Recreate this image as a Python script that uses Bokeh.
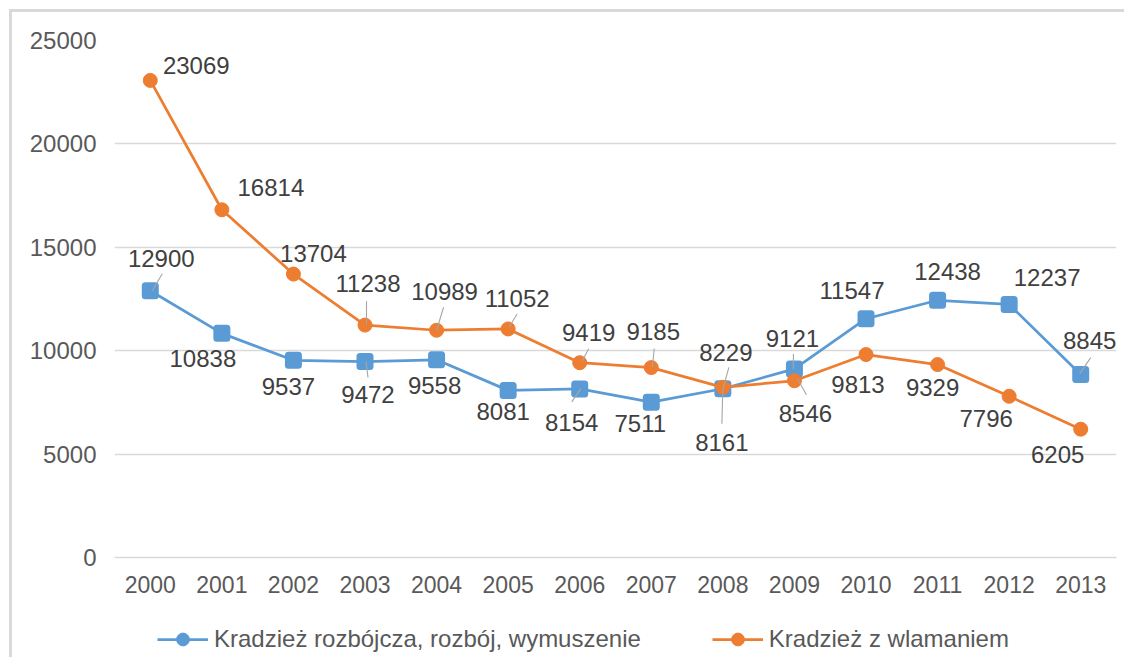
from bokeh.plotting import figure
from bokeh.layouts import column
from bokeh.models import Range1d, Legend, LegendItem, NumeralTickFormatter
from bokeh.embed import file_html
from bokeh.resources import INLINE
from bokeh.core.properties import value

# ---------------- data ----------------
years = ["2000", "2001", "2002", "2003", "2004", "2005", "2006",
         "2007", "2008", "2009", "2010", "2011", "2012", "2013"]
robbery = [12900, 10838, 9537, 9472, 9558, 8081, 8154,
           7511, 8161, 9121, 11547, 12438, 12237, 8845]
burglary = [23069, 16814, 13704, 11238, 10989, 11052, 9419,
            9185, 8229, 8546, 9813, 9329, 7796, 6205]
y_ticks = [0, 5000, 10000, 15000, 20000, 25000]
series_names = ["Kradzież rozbójcza, rozbój, wymuszenie", "Kradzież z wlamaniem"]

# ---------------- label placement (screen px offsets from the point) ----------------
robbery_dx = [11, -19, -5, 3, -2, -5, -8, -11, -1, -2, -14, 10, 38, 9]
robbery_dy = [-32, 25, 26, 33, 26, 21, 34, 21, 54, -30, -28, -29, -27, -34]
burglary_dx = [46, 49, 20, 3, 8, 9, 9, 2, 3, 11, -8, -5, -23, -23]
burglary_dy = [-15, -22, -21, -42, -39, -30, -30, -36, -35, 33, 30, 23, 22, 25]

# leader lines: (index, start dx, start dy, end dx, end dy) in px
robbery_leaders = [(0, 2, 0, 12, -17), (3, 1, 0, 3, 16), (6, 1, 0, -8, 13),
                   (8, 0, 0, -1, 35), (9, -1, 0, -1, -15), (13, -1, -1, 10, -17)]
burglary_leaders = [(3, 1.5, -1, 1.5, -24), (4, 0, 0, 7, -23), (5, 1, -2, 9, -15),
                    (6, 2, -1, 9, -14), (7, 1, 0, 3, -19), (8, 0, 2, 6, -20),
                    (9, 3, -2, 12, 14)]

BLUE = "#5B9BD5"
ORANGE = "#ED7D31"
FONT = "Liberation Sans"

FRAME_W, FRAME_H = 1002, 517
LEFT, RIGHT, TOP, BOTTOM = 102, 8, 28, 48
n = len(years)
xs = list(range(n))
XPX = FRAME_W / n
YPX = FRAME_H / (y_ticks[-1] - y_ticks[0])

p = figure(frame_width=FRAME_W, frame_height=FRAME_H,
           x_range=Range1d(-0.5, n - 0.5), y_range=Range1d(y_ticks[0], y_ticks[-1]),
           output_backend="svg", toolbar_location=None,
           min_border_left=LEFT, min_border_right=RIGHT,
           min_border_top=TOP, min_border_bottom=BOTTOM)
p.outline_line_color = None
p.background_fill_color = "white"
p.border_fill_color = "white"

# axes
p.xaxis.ticker = xs
p.xaxis.major_label_overrides = {i: y for i, y in enumerate(years)}
p.yaxis.ticker = y_ticks
p.yaxis.formatter = NumeralTickFormatter(format="0")
for ax in (p.xaxis, p.yaxis):
    ax.major_tick_line_color = None
    ax.minor_tick_line_color = None
    ax.major_tick_in = 0
    ax.major_tick_out = 0
    ax.major_label_text_font = FONT
    ax.major_label_text_color = "#595959"
p.yaxis.axis_line_color = None
p.xaxis.axis_line_color = "#d9d9d9"
p.xaxis.axis_line_width = 1.3
p.yaxis.major_label_text_font_size = "24px"
p.xaxis.major_label_text_font_size = "23px"
p.yaxis.major_label_standoff = 18
p.xaxis.major_label_standoff = 18

p.xgrid.visible = False
p.ygrid.ticker = y_ticks
p.ygrid.grid_line_color = "#d9d9d9"
p.ygrid.grid_line_width = 1.3

# series
p.line(xs, robbery, color=BLUE, line_width=2.75)
p.scatter(xs, robbery, marker="square", size=10, fill_color=BLUE,
          line_color=BLUE, line_width=7, line_join="round")
p.line(xs, burglary, color=ORANGE, line_width=2.75)
p.scatter(xs, burglary, marker="circle", size=14, fill_color=ORANGE,
          line_color=ORANGE, line_width=1)

# leader lines
def leaders(vals, spec):
    x0, y0, x1, y1 = [], [], [], []
    for i, sdx, sdy, edx, edy in spec:
        x0.append(i + sdx / XPX)
        y0.append(vals[i] - sdy / YPX)
        x1.append(i + edx / XPX)
        y1.append(vals[i] - edy / YPX)
    return x0, y0, x1, y1

for vals, spec in ((robbery, robbery_leaders), (burglary, burglary_leaders)):
    a, b, c, d = leaders(vals, spec)
    p.segment(a, b, c, d, line_color="#a6a6a6", line_width=1.1)

# data labels
for vals, dx, dy in ((robbery, robbery_dx, robbery_dy), (burglary, burglary_dx, burglary_dy)):
    p.text(xs, vals, text=[str(v) for v in vals], x_offset=dx, y_offset=dy,
           text_font=value(FONT), text_font_size="24px", text_color="#404040",
           text_align="center", text_baseline="middle")

# ---------------- legend strip (its own small figure, legend inside its frame) ----------------
# the series are re-plotted here outside the visible range, only to feed the legend glyphs
LEG_H = 52
pl = figure(width=LEFT + FRAME_W + RIGHT, height=LEG_H,
            x_range=Range1d(-1, -0.5), y_range=Range1d(-1, -0.5),
            output_backend="svg", toolbar_location=None,
            x_axis_location=None, y_axis_location=None, min_border=0)
pl.outline_line_color = None
pl.grid.visible = False
pl.border_fill_color = "white"
pl.background_fill_color = "white"

lb = pl.line(xs, robbery, color=BLUE, line_width=2.75)
mb = pl.scatter(xs, robbery, marker="circle", size=12, fill_color=BLUE, line_color=BLUE)
lo = pl.line(xs, burglary, color=ORANGE, line_width=2.75)
mo = pl.scatter(xs, burglary, marker="circle", size=12, fill_color=ORANGE, line_color=ORANGE)
legend = Legend(items=[LegendItem(label=series_names[0], renderers=[lb, mb]),
                       LegendItem(label=series_names[1], renderers=[lo, mo])],
                orientation="horizontal", location=(43, 2),
                padding=0, margin=0, spacing=71, label_standoff=6,
                glyph_width=51, glyph_height=32, label_height=24,
                label_text_font=FONT, label_text_font_size="24px",
                label_text_color="#595959",
                background_fill_alpha=0, border_line_color=None)
pl.add_layout(legend, "center")

layout = column(p, pl, spacing=0,
                styles={"border-left": "3px solid #d9d9d9", "border-top": "3px solid #d9d9d9",
                        "margin-left": "9px", "margin-top": "9px"})

open("out.html", "w").write(file_html(layout, INLINE))
